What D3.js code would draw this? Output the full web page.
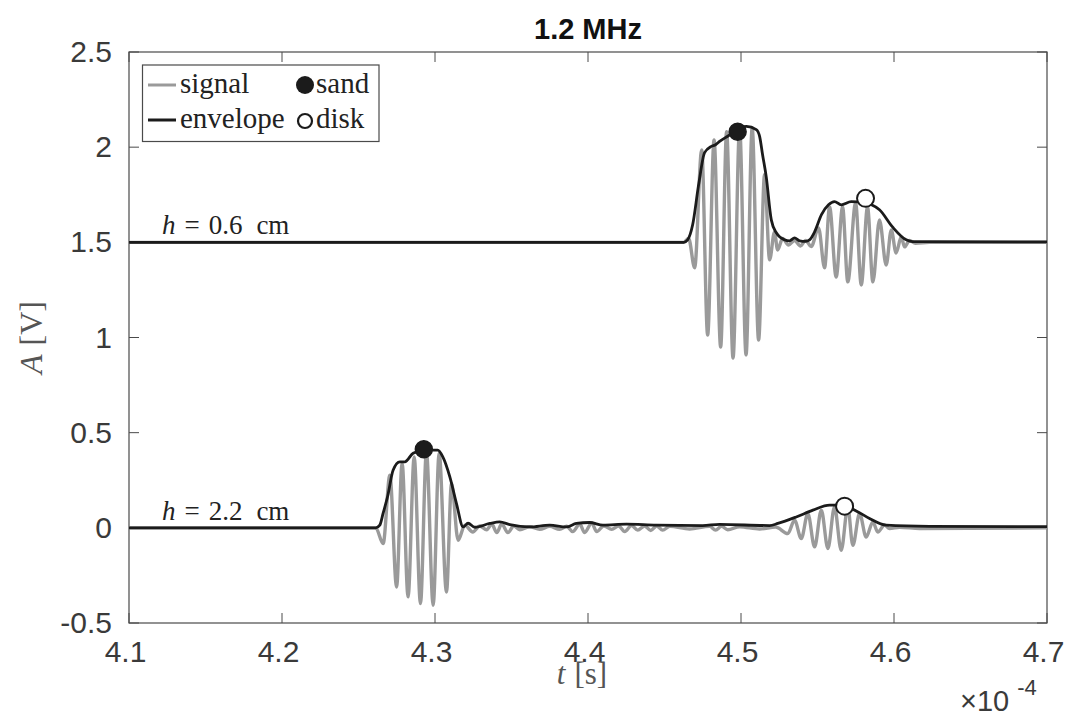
<!DOCTYPE html>
<html>
<head>
<meta charset="utf-8">
<script src="https://cdn.jsdelivr.net/npm/d3@7"></script>
<style>
  body { margin: 0; background: #fff; }
  svg { display: block; }
  .tick text { font-family: "Liberation Sans", Arial, sans-serif; font-size: 30px; fill: #3a3a3a; }
  .latex { font-family: "Liberation Serif", "Times New Roman", serif; }
</style>
</head>
<body>
<svg id="chart" width="1071" height="719"></svg>
<script>
"use strict";

// time in units of 1e-4 s, amplitude in V
var xTicks = [4.1, 4.2, 4.3, 4.4, 4.5, 4.6, 4.7];
var yTicks = [-0.5, 0, 0.5, 1, 1.5, 2, 2.5];

// h = 0.6 cm (plotted with +1.5 V offset): signal extrema
var topSignalT = [4.1, 4.4625, 4.4658, 4.4697, 4.4743, 4.4782, 4.4824, 4.4867, 4.4906, 4.4948, 4.4991, 4.5033, 4.5073, 4.5115, 4.5154, 4.5187, 4.5219, 4.5239, 4.5272, 4.5311, 4.5350, 4.5389, 4.5422, 4.5459, 4.5507, 4.5546, 4.5579, 4.5622, 4.5664, 4.5698, 4.5749, 4.5786, 4.5827, 4.5862, 4.5905, 4.5949, 4.5982, 4.6014, 4.6047, 4.6069, 4.6101, 4.6140, 4.6232, 4.7];
var topSignalA = [1.5, 1.5, 1.52, 1.366, 1.986, 1.013, 2.038, 0.950, 2.081, 0.892, 2.102, 0.908, 2.102, 0.987, 1.855, 1.408, 1.555, 1.460, 1.52, 1.486, 1.51, 1.481, 1.51, 1.478, 1.576, 1.366, 1.686, 1.318, 1.686, 1.292, 1.707, 1.276, 1.686, 1.292, 1.618, 1.381, 1.565, 1.444, 1.528, 1.476, 1.51, 1.495, 1.5, 1.5];

var topEnvT = [4.1, 4.4625, 4.4651, 4.4684, 4.4723, 4.4762, 4.4806, 4.4834, 4.4860, 4.4926, 4.4969, 4.5035, 4.5100, 4.5122, 4.5141, 4.5165, 4.5198, 4.5231, 4.5285, 4.5317, 4.5350, 4.5383, 4.5422, 4.5448, 4.5481, 4.5526, 4.5572, 4.5611, 4.5655, 4.5720, 4.5807, 4.5853, 4.5905, 4.5990, 4.6080, 4.6121, 4.7];
var topEnvA = [1.5, 1.5, 1.513, 1.592, 1.802, 1.971, 2.004, 2.013, 2.030, 2.065, 2.092, 2.109, 2.092, 2.055, 1.960, 1.844, 1.618, 1.550, 1.513, 1.508, 1.523, 1.508, 1.505, 1.513, 1.555, 1.645, 1.697, 1.714, 1.697, 1.714, 1.708, 1.697, 1.671, 1.581, 1.513, 1.504, 1.502];

// h = 2.2 cm
var botSignalT = [4.1, 4.2613, 4.2661, 4.2705, 4.2749, 4.2785, 4.2824, 4.2864, 4.2905, 4.2944, 4.2988, 4.3027, 4.3075, 4.3108, 4.3151, 4.3195, 4.3247, 4.3293, 4.3338, 4.3371, 4.3404, 4.3436, 4.3476, 4.3515, 4.3554, 4.3619, 4.3684, 4.3750, 4.3815, 4.3861, 4.3900, 4.3946, 4.3978, 4.4024, 4.4057, 4.4103, 4.4155, 4.4200, 4.4240, 4.4285, 4.4325, 4.4370, 4.4410, 4.4449, 4.4488, 4.4534, 4.4664, 4.4795, 4.4834, 4.4873, 4.4913, 4.4991, 4.5122, 4.5226, 4.5306, 4.5350, 4.5394, 4.5437, 4.5481, 4.5525, 4.5568, 4.5611, 4.5655, 4.5698, 4.5731, 4.5775, 4.5818, 4.5862, 4.5894, 4.5938, 4.5971, 4.6036, 4.6167, 4.7];
var botSignalA = [0, 0, -0.083, 0.277, -0.311, 0.340, -0.363, 0.373, -0.398, 0.399, -0.407, 0.392, -0.337, 0.235, -0.065, 0.014, -0.022, 0.01, -0.01, 0.02, -0.025, 0.02, -0.025, 0.01, -0.01, 0.006, -0.008, 0.008, -0.008, 0.008, -0.02, 0.02, -0.025, 0.025, -0.02, 0.01, -0.008, 0.01, -0.02, 0.012, -0.012, 0.01, -0.014, 0.01, -0.012, 0.008, -0.006, 0.008, -0.012, 0.008, -0.01, 0.006, -0.006, 0.004, -0.030, 0.040, -0.056, 0.075, -0.100, 0.093, -0.109, 0.110, -0.118, 0.110, -0.092, 0.075, -0.048, 0.031, -0.022, 0.014, -0.004, 0.003, -0.004, 0];

var botEnvT = [4.1, 4.2613, 4.2639, 4.2661, 4.2692, 4.2726, 4.2770, 4.2803, 4.2857, 4.2933, 4.3018, 4.3051, 4.3097, 4.3140, 4.3184, 4.3216, 4.3260, 4.3358, 4.3423, 4.3489, 4.3619, 4.3750, 4.3859, 4.3924, 4.4011, 4.4098, 4.4251, 4.4447, 4.4749, 4.4860, 4.5187, 4.5241, 4.5361, 4.5470, 4.5579, 4.5666, 4.5753, 4.5840, 4.5949, 4.6232, 4.7];
var botEnvA = [0, 0, 0.014, 0.077, 0.171, 0.303, 0.347, 0.347, 0.392, 0.408, 0.408, 0.373, 0.268, 0.129, 0.005, 0.024, 0.003, 0.023, 0.031, 0.017, 0.005, 0.014, 0.005, 0.023, 0.028, 0.014, 0.019, 0.014, 0.012, 0.018, 0.012, 0.023, 0.057, 0.093, 0.119, 0.119, 0.089, 0.049, 0.014, 0.008, 0.006];

// picked maxima
var sandT = [4.4978, 4.2927];
var sandA = [2.081, 0.413];
var diskT = [4.5814, 4.5677];
var diskA = [1.731, 0.114];

var traceLabels = ["0.6", "2.2"];
var traceOffsets = [1.5, 0];

var margin = { l: 129, r: 24, t: 52, b: 96 };
var width = 1071, height = 719;

var svg = d3.select("#chart");

var x = d3.scaleLinear().domain([4.1, 4.7]).range([margin.l, width - margin.r]);
var y = d3.scaleLinear().domain([-0.5, 2.5]).range([height - margin.b, margin.t]);

function zip(ts, as) {
  return ts.map(function(t, i) { return [t, as[i]]; });
}

function drawAxes() {
  var axisColor = "#4a4a4a";
  var tickLen = 10;

  svg.append("g")
    .attr("transform", "translate(0," + y(-0.5) + ")")
    .call(d3.axisBottom(x).tickValues(xTicks).tickSize(0).tickFormat(d3.format(".1f")))
    .call(function(g) { g.select(".domain").remove(); })
    .selectAll("text")
    .attr("y", 39)
    .attr("dy", 0)
    .attr("dx", -4);

  svg.append("g")
    .attr("transform", "translate(" + x(4.1) + ",0)")
    .call(d3.axisLeft(y).tickValues(yTicks).tickSize(0).tickPadding(17).tickFormat(function(d) { return d === 0 ? "0" : String(d); }))
    .call(function(g) { g.select(".domain").remove(); });

  var ticks = svg.append("g").attr("stroke", axisColor).attr("stroke-width", 1);
  xTicks.forEach(function(t) {
    ticks.append("line").attr("x1", x(t)).attr("x2", x(t)).attr("y1", y(-0.5)).attr("y2", y(-0.5) - tickLen);
    ticks.append("line").attr("x1", x(t)).attr("x2", x(t)).attr("y1", y(2.5)).attr("y2", y(2.5) + tickLen);
  });
  yTicks.forEach(function(v) {
    ticks.append("line").attr("x1", x(4.1)).attr("x2", x(4.1) + tickLen).attr("y1", y(v)).attr("y2", y(v));
    ticks.append("line").attr("x1", x(4.7)).attr("x2", x(4.7) - tickLen).attr("y1", y(v)).attr("y2", y(v));
  });

  svg.append("rect")
    .attr("x", x(4.1))
    .attr("y", y(2.5))
    .attr("width", x(4.7) - x(4.1))
    .attr("height", y(-0.5) - y(2.5))
    .attr("fill", "none")
    .attr("stroke", axisColor)
    .attr("stroke-width", 1.2);
}

function drawTraces() {
  var line = d3.line()
    .x(function(d) { return x(d[0]); })
    .y(function(d) { return y(d[1]); })
    .curve(d3.curveMonotoneX);

  var signals = [zip(topSignalT, topSignalA), zip(botSignalT, botSignalA)];
  var envelopes = [zip(topEnvT, topEnvA), zip(botEnvT, botEnvA)];

  signals.forEach(function(s) {
    svg.append("path").datum(s)
      .attr("d", line)
      .attr("fill", "none")
      .attr("stroke", "#9a9a9a")
      .attr("stroke-width", 3.4);
  });
  envelopes.forEach(function(s) {
    svg.append("path").datum(s)
      .attr("d", line)
      .attr("fill", "none")
      .attr("stroke", "#1b1b1b")
      .attr("stroke-width", 2.8)
      .attr("stroke-linejoin", "round");
  });

  svg.selectAll(".sand").data(zip(sandT, sandA)).enter().append("circle")
    .attr("cx", function(d) { return x(d[0]); })
    .attr("cy", function(d) { return y(d[1]); })
    .attr("r", 8.5)
    .attr("fill", "#1b1b1b")
    .attr("stroke", "#1b1b1b")
    .attr("stroke-width", 1.5);
  svg.selectAll(".disk").data(zip(diskT, diskA)).enter().append("circle")
    .attr("cx", function(d) { return x(d[0]); })
    .attr("cy", function(d) { return y(d[1]); })
    .attr("r", 8.5)
    .attr("fill", "#fff")
    .attr("stroke", "#1b1b1b")
    .attr("stroke-width", 2);

  traceLabels.forEach(function(lab, i) {
    var txt = svg.append("text")
      .classed("latex", true)
      .attr("x", x(4.1215))
      .attr("y", y(traceOffsets[i]) - 8)
      .attr("font-size", 27)
      .attr("fill", "#222");
    txt.append("tspan").attr("font-style", "italic").text("h");
    txt.append("tspan").attr("dx", 9).text("=");
    txt.append("tspan").attr("dx", 9).text(lab);
    txt.append("tspan").attr("dx", 14).text("cm");
  });
}

function drawLegend() {
  var lg = svg.append("g");
  lg.append("rect")
    .attr("x", 142.5).attr("y", 65)
    .attr("width", 236.5).attr("height", 76.5)
    .attr("fill", "#fff")
    .attr("stroke", "#4a4a4a")
    .attr("stroke-width", 1.2);

  var rows = [
    { y: 85, label: "signal", color: "#9a9a9a" },
    { y: 120, label: "envelope", color: "#1b1b1b" }
  ];
  rows.forEach(function(r) {
    lg.append("line")
      .attr("x1", 148).attr("x2", 176)
      .attr("y1", r.y).attr("y2", r.y)
      .attr("stroke", r.color).attr("stroke-width", 3);
    lg.append("text").classed("latex", true)
      .attr("x", 180).attr("y", r.y + 8)
      .attr("font-size", 29).attr("fill", "#222")
      .text(r.label);
  });

  lg.append("circle").attr("cx", 305).attr("cy", 85).attr("r", 9).attr("fill", "#1b1b1b");
  lg.append("circle").attr("cx", 305).attr("cy", 121).attr("r", 7).attr("fill", "#fff").attr("stroke", "#1b1b1b").attr("stroke-width", 2.2);
  lg.append("text").classed("latex", true).attr("x", 316).attr("y", 93).attr("font-size", 29).attr("fill", "#222").text("sand");
  lg.append("text").classed("latex", true).attr("x", 316).attr("y", 128).attr("font-size", 29).attr("fill", "#222").text("disk");
}

function drawLabels() {
  var midX = (x(4.1) + x(4.7)) / 2;

  svg.append("text")
    .attr("x", midX).attr("y", 39)
    .attr("text-anchor", "middle")
    .attr("font-family", "'Liberation Sans', Arial, sans-serif")
    .attr("font-weight", "bold")
    .attr("font-size", 29)
    .attr("fill", "#111")
    .text("1.2 MHz");

  var xl = svg.append("text").classed("latex", true)
    .attr("x", midX - 6).attr("y", 684)
    .attr("text-anchor", "middle")
    .attr("font-size", 31)
    .attr("fill", "#555");
  xl.append("tspan").attr("font-style", "italic").text("t");
  xl.append("tspan").attr("dx", 9).text("[s]");

  var yl = svg.append("text").classed("latex", true)
    .attr("transform", "translate(42," + ((y(-0.5) + y(2.5)) / 2) + ") rotate(-90)")
    .attr("text-anchor", "middle")
    .attr("font-size", 32)
    .attr("fill", "#555");
  yl.append("tspan").attr("font-style", "italic").text("A");
  yl.append("tspan").attr("dx", 9).text("[V]");

  var ex = svg.append("text")
    .attr("x", 960).attr("y", 711)
    .attr("font-family", "'Liberation Sans', Arial, sans-serif")
    .attr("font-size", 29)
    .attr("fill", "#3a3a3a");
  ex.append("tspan").text("\u00d710");
  ex.append("tspan").attr("dx", 8).attr("dy", -16).attr("font-size", 22).text("-4");
}

drawAxes();
drawTraces();
drawLegend();
drawLabels();
</script>
</body>
</html>
